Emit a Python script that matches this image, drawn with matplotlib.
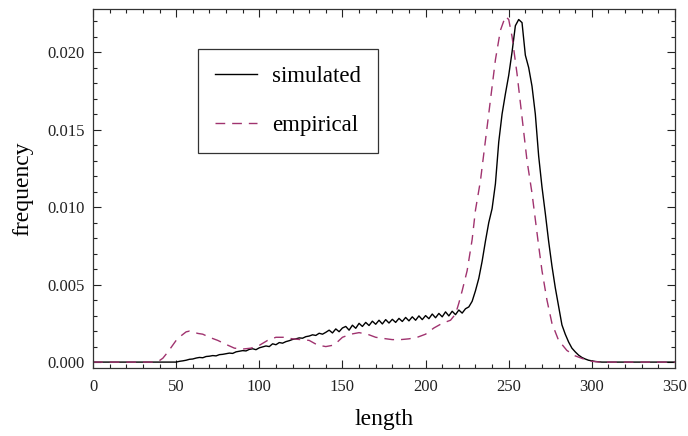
import matplotlib
matplotlib.use("Agg")
import matplotlib.pyplot as plt
from matplotlib.ticker import MultipleLocator, FormatStrFormatter

plt.rcParams['font.family'] = ['Liberation Serif', 'DejaVu Serif']

sim_x = [0, 48,
         50, 52, 54, 56, 58, 60, 62, 64, 66, 68, 70, 72, 74, 76, 78, 80, 82, 84, 86, 88,
         90, 92, 94, 96, 98, 100, 102, 104, 106, 108, 110, 112, 114, 116, 118, 120,
         122, 124, 126, 128, 130, 132, 134, 136, 138, 140, 142, 144, 146, 148, 150,
         152, 154, 156, 158, 160, 162, 164, 166, 168, 170, 172, 174, 176, 178, 180,
         182, 184, 186, 188, 190, 192, 194, 196, 198, 200, 202, 204, 206, 208, 210,
         212, 214, 216, 218, 220, 222, 224, 226, 228, 230, 232, 234, 236, 238, 240,
         242, 244, 246, 248, 250, 252, 254, 256, 258, 260, 262, 264, 266, 268, 270,
         272, 274, 276, 278, 280, 282, 284, 286, 288, 290, 292, 294, 296, 298, 300,
         302, 304, 306, 350]
sim_y = [0.0, 0.0,
         0.00000, 0.00005, 0.00008, 0.00012, 0.00018, 0.00020, 0.00026, 0.00030, 0.00028, 0.00036,
         0.00038, 0.00042, 0.00040, 0.00048, 0.00050, 0.00054, 0.00058, 0.00056, 0.00066, 0.00070,
         0.00074, 0.00072, 0.00082, 0.00086, 0.00080, 0.00092, 0.00098, 0.00104, 0.00100, 0.00118,
         0.00112, 0.00126, 0.00122, 0.00132, 0.00138, 0.00146,
         0.00150, 0.00156, 0.00154, 0.00164, 0.00168, 0.00176, 0.00172, 0.00186, 0.00180, 0.00192,
         0.00206, 0.00188, 0.00214, 0.00196, 0.00220,
         0.00230, 0.00206, 0.00238, 0.00218, 0.00250, 0.00230, 0.00256, 0.00236, 0.00264, 0.00244,
         0.00270, 0.00246, 0.00274, 0.00252, 0.00276,
         0.00256, 0.00282, 0.00262, 0.00288, 0.00266, 0.00292, 0.00270, 0.00298, 0.00274, 0.00300,
         0.00280, 0.00310, 0.00286, 0.00314, 0.00292,
         0.00324, 0.00298, 0.00328, 0.00306, 0.00336, 0.00316, 0.00344, 0.00356, 0.00392, 0.00460,
         0.00540, 0.00650, 0.00780, 0.00900, 0.00990,
         0.01150, 0.01420, 0.01600, 0.01730, 0.01850, 0.02000, 0.02170, 0.02210, 0.02190, 0.01980,
         0.01900, 0.01780, 0.01600, 0.01330, 0.01130,
         0.00960, 0.00780, 0.00620, 0.00480, 0.00360, 0.00240, 0.00180, 0.00130, 0.00090, 0.00066,
         0.00045, 0.00030, 0.00020, 0.00012, 0.00008,
         0.00004, 0.00002, 0.0, 0.0]

emp_x = [0, 36, 38, 40, 42, 45, 48, 50, 53, 56, 58, 60, 63, 66, 70, 75, 80, 85, 90, 95,
         100, 105, 110, 115, 120, 125, 130, 135, 140, 145, 150, 155, 160, 165, 170, 175,
         180, 185, 190, 195, 200, 205, 210, 215, 218, 220, 222, 225, 228, 230, 233, 236,
         239, 242, 245, 248, 250, 252, 255, 258, 261, 264, 266, 268, 270, 273, 276, 280,
         285, 290, 295, 300, 305, 350]
emp_y = [0.0, 0.0, 0.00002, 0.0001, 0.00025, 0.00065, 0.0011, 0.0014, 0.0017, 0.00195,
         0.0020, 0.00195, 0.00185, 0.0018, 0.0016, 0.0014, 0.00114, 0.0009, 0.00084, 0.0009,
         0.00108, 0.0014, 0.0016, 0.0016, 0.0015, 0.00145, 0.0014, 0.0011, 0.0010, 0.0011,
         0.0016, 0.0018, 0.0019, 0.0018, 0.0016, 0.00152, 0.00145, 0.00145, 0.0015, 0.0016,
         0.0018, 0.0022, 0.0025, 0.0027, 0.0031, 0.0038, 0.0046, 0.0059, 0.0079, 0.0098,
         0.0117, 0.0143, 0.0169, 0.0195, 0.0214, 0.0223, 0.0221, 0.0210, 0.0186, 0.0158,
         0.0130, 0.0109, 0.0092, 0.0075, 0.0059, 0.0040, 0.0025, 0.0014, 0.00075, 0.0004,
         0.0002, 0.00005, 0.0, 0.0]

labels = ["simulated", "empirical"]

fig = plt.figure(figsize=(6.88, 4.36), dpi=100)
ax = fig.add_axes([0.1352, 0.1553, 0.8459, 0.8241])

ax.plot(sim_x, sim_y, color='black', lw=1.0, label=labels[0])
ax.plot(emp_x, emp_y, color='#a0336f', lw=1.0, dashes=(7, 5), label=labels[1])

ax.set_xlim(0, 350)
ax.set_ylim(-0.0004, 0.02278)
ax.xaxis.set_major_locator(MultipleLocator(50))
ax.xaxis.set_minor_locator(MultipleLocator(10))
ax.yaxis.set_major_locator(MultipleLocator(0.005))
ax.yaxis.set_minor_locator(MultipleLocator(0.001))
ax.yaxis.set_major_formatter(FormatStrFormatter('%.3f'))
ax.tick_params(which='both', direction='in', top=True, right=True, labelsize=12, colors='#222222')
ax.tick_params(which='major', length=6, width=0.8)
ax.tick_params(which='minor', length=3, width=0.8)
ax.tick_params(axis='y', which='major', pad=6)
ax.tick_params(axis='x', which='major', pad=8)
for s in ax.spines.values():
    s.set_linewidth(0.9)
    s.set_color('#333333')

ax.set_xlabel('length', fontsize=17, labelpad=10)
ax.set_ylabel('frequency', fontsize=17, labelpad=10)

leg = ax.legend(loc='upper left', bbox_to_anchor=(0.180, 0.889), borderaxespad=0,
                fontsize=16.5, fancybox=False, edgecolor='#333333', framealpha=1,
                handlelength=1.85, handletextpad=0.65, labelspacing=1.2, borderpad=0.75)
leg.get_frame().set_linewidth(0.9)

fig.savefig('out.png', dpi=100)
